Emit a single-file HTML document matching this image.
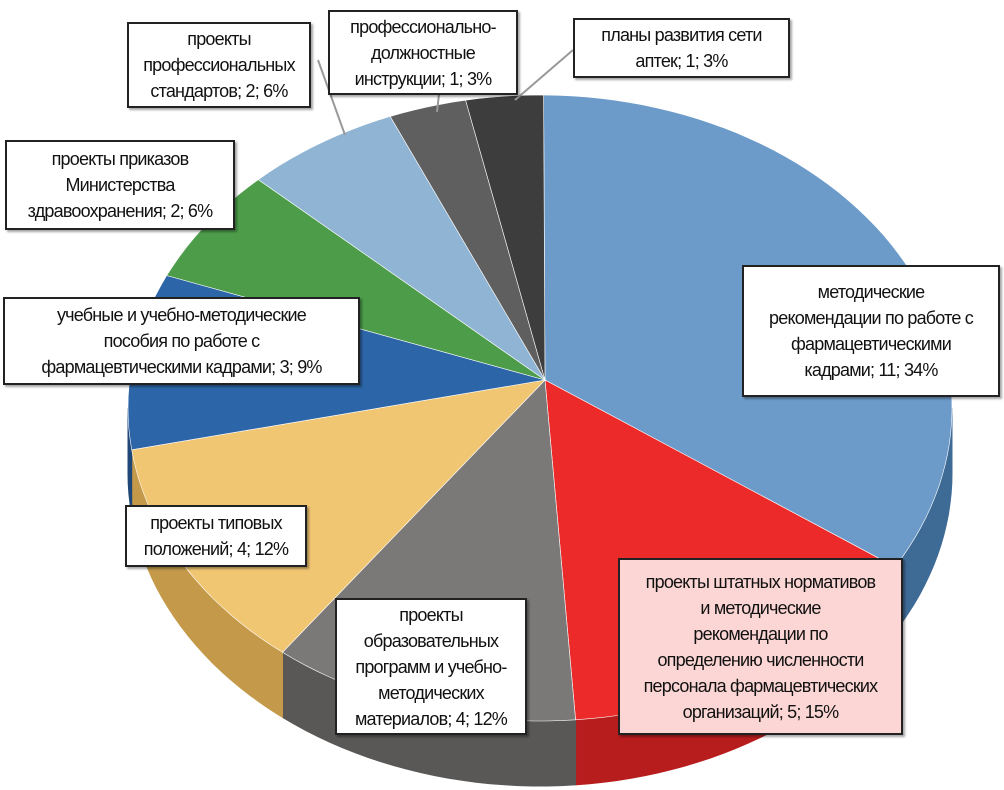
<!DOCTYPE html>
<html><head><meta charset="utf-8">
<style>
body{margin:0;background:#fff;width:1004px;height:790px;overflow:hidden;position:relative;font-family:"Liberation Sans Narrow","Liberation Sans",sans-serif;}
.lbl{position:absolute;background:#fff;border:2px solid #222;box-shadow:2px 2px 2px rgba(0,0,0,.35);text-align:center;font-size:18px;line-height:26px;color:#111;display:flex;align-items:center;justify-content:center;box-sizing:border-box;padding:2px 2px;letter-spacing:-0.8px;white-space:nowrap;}
svg{position:absolute;left:0;top:0}
</style></head><body>
<svg id="chart" width="1004" height="790"></svg>

<div class="lbl" style="left:127px;top:22px;width:184px;height:86px">проекты<br>профессиональных<br>стандартов; 2; 6%</div>
<div class="lbl" style="left:328px;top:10px;width:190px;height:85px">профессионально-<br>должностные<br>инструкции; 1; 3%</div>
<div class="lbl" style="left:573px;top:18px;width:217px;height:60px">планы развития сети<br>аптек; 1; 3%</div>
<div class="lbl" style="left:5px;top:140px;width:230px;height:90px">проекты приказов<br>Министерства<br>здравоохранения; 2; 6%</div>
<div class="lbl" style="left:3px;top:297px;width:357px;height:88px">учебные и учебно-методические<br>пособия по работе с<br>фармацевтическими кадрами; 3; 9%</div>
<div class="lbl" style="left:742px;top:265px;width:258px;height:132px">методические<br>рекомендации по работе с<br>фармацевтическими<br>кадрами; 11; 34%</div>
<div class="lbl" style="left:125px;top:505px;width:182px;height:62px">проекты типовых<br>положений; 4; 12%</div>
<div class="lbl" style="left:335px;top:598px;width:192px;height:137px">проекты<br>образовательных<br>программ и учебно-<br>методических<br>материалов; 4; 12%</div>
<div class="lbl" style="left:618px;top:558px;width:285px;height:177px;background:#fbd6d4">проекты штатных нормативов<br>и методические<br>рекомендации по<br>определению численности<br>персонала фармацевтических<br>организаций; 5; 15%</div>

<script>
const categories=["методические рекомендации","штатные нормативы","образовательные программы","типовые положения","учебные пособия","приказы МЗ","проф. стандарты","должностные инструкции","планы развития сети аптек"];
const values=[11,5,4,4,3,2,2,1,1];
const topColors=["#6d9bc9","#ec2a2a","#7b7978","#f1c672","#2d66a8","#4c9c4a","#8fb4d4","#5f5f5f","#3d3d3d"];
const sideColors=["#3e6a96","#b81d1d","#5a5857","#c49a4a","#1f4778","#346e33","#6a8aa6","#444","#2a2a2a"];
const NS="http://www.w3.org/2000/svg";
const svg=document.getElementById('chart');
const cx=540,cy=408,rx=412,ry=313,depth=65,ax=545,ay=380,start=0.5;
const total=values.reduce((a,b)=>a+b,0);
function pt(t,d){const r=t*Math.PI/180;return [cx+rx*Math.sin(r),cy-ry*Math.cos(r)+(d||0)];}
function arc(t1,t2,d){let s="";const n=Math.max(2,Math.ceil((t2-t1)/2));for(let i=0;i<=n;i++){const p=pt(t1+(t2-t1)*i/n,d);s+=(i?"L":"")+p[0].toFixed(1)+","+p[1].toFixed(1);}return s;}
function arcRev(t1,t2,d){let s="";const n=Math.max(2,Math.ceil((t2-t1)/2));for(let i=n;i>=0;i--){const p=pt(t1+(t2-t1)*i/n,d);s+="L"+p[0].toFixed(1)+","+p[1].toFixed(1);}return s;}
const angles=[];let acc=0;
values.forEach(v=>{const a1=start+acc/total*360;acc+=v;angles.push([a1,start+acc/total*360]);});
angles.forEach((a,i)=>{
  const t1=Math.max(a[0],90),t2=Math.min(a[1],270);
  if(t2<=t1)return;
  const p=document.createElementNS(NS,'path');
  p.setAttribute('d',"M"+arc(t1,t2,0)+arcRev(t1,t2,depth)+"Z");
  p.setAttribute('fill',sideColors[i]);p.setAttribute('stroke',sideColors[i]);
  
  
  svg.appendChild(p);
});
angles.forEach((a,i)=>{
  const p=document.createElementNS(NS,'path');
  p.setAttribute('d',"M"+ax+","+ay+"L"+arc(a[0],a[1],0)+"Z");
  p.setAttribute('fill',topColors[i]);p.setAttribute('stroke','#fff');p.setAttribute('stroke-width','0.6');
  
  
  svg.appendChild(p);
});
[[318,60,345,135],[440,85,437,112],[573,50,515,100]].forEach((l,i)=>{
  const ln=document.createElementNS(NS,'line');
  ln.setAttribute('x1',l[0]);ln.setAttribute('y1',l[1]);ln.setAttribute('x2',l[2]);ln.setAttribute('y2',l[3]);
  ln.setAttribute('stroke','#999');ln.setAttribute('stroke-width','2');
  
  
  svg.appendChild(ln);
});
</script>
</body></html>
